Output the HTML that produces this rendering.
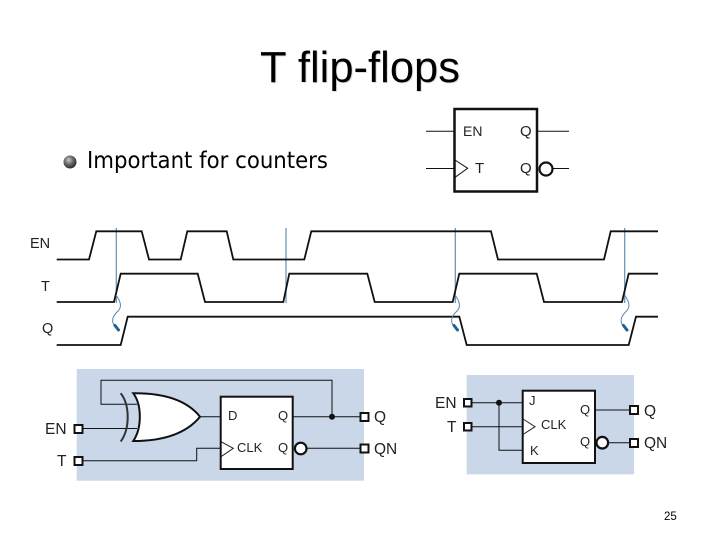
<!DOCTYPE html>
<html><head><meta charset="utf-8"><style>
html,body{margin:0;padding:0;background:#fff}
svg{display:block}
text{font-family:"Liberation Sans",sans-serif;fill:#222}
</style></head><body>
<svg width="720" height="540" viewBox="0 0 720 540" xmlns="http://www.w3.org/2000/svg">
<defs><radialGradient id="b" cx="40%" cy="35%" r="70%"><stop offset="0" stop-color="#c8c8c8"/><stop offset=".5" stop-color="#666"/><stop offset="1" stop-color="#222"/></radialGradient></defs>
<rect width="720" height="540" fill="#fff"/>
<text x="261" y="83" font-size="43.5" textLength="200" style="fill:#ddd">T flip-flops</text>
<text x="260" y="82" font-size="43.5" textLength="200" style="fill:#000">T flip-flops</text>
<circle cx="70" cy="162" r="6.5" fill="url(#b)"/>
<text x="87" y="168" font-size="23" textLength="241" lengthAdjust="spacingAndGlyphs" style="font-family:'DejaVu Sans',sans-serif;fill:#000">Important for counters</text>
<!-- top symbol -->
<g fill="none" stroke="#111">
<path d="M426 131.3H454M537 131.3H569M426 168.5H455M553 168.5H569" stroke-width="1"/>
<rect x="454.5" y="109" width="82.5" height="82.5" stroke-width="2.5" fill="#fff"/>
<path d="M455 160L467.7 168.3L455 177.3" stroke-width="1"/>
<circle cx="546" cy="169" r="6.5" stroke-width="2.2" fill="#fff"/>
</g>
<text x="463" y="136" font-size="14">EN</text><text x="520" y="136" font-size="15">Q</text>
<text x="475" y="173" font-size="15">T</text><text x="520" y="173" font-size="15">Q</text>
<!-- timing -->
<g fill="none" stroke="#5f8fb5" stroke-width="1.2">
<path d="M116.3 228V303M286 228V303M455.3 228V303M624.7 228V303"/>
</g>
<g fill="none" stroke="#111" stroke-width="1.8">
<path d="M56.7 259.5H89L96.3 231.3H141.7L149 259.5H180.7L187.3 231.3H226.7L233.3 259.5H304.3L311.3 231.3H491L498 259.5H604L610.7 231.3H658"/>
<path d="M56.7 302H114L120.7 273.7H197.7L205 302H283.3L289.3 273.7H367.3L374.7 302H452.7L459.3 273.7H536.7L544 302H622L628.7 273.7H658"/>
<path d="M56.7 345H120.7L127.7 316.7H459.3L466.7 345H628.7L636 316.7H658"/>
</g>
<g fill="none" stroke="#5b84a8" stroke-width="1">
<path d="M116 295C121 302 122 307 118 311C113 316 111 320 114 325L118 330"/>
<path d="M455 295C460 302 461 307 457 311C452 316 450 320 453 325L457 330"/>
<path d="M624.5 295C629.5 302 630.5 307 626.5 311C621.5 316 619.5 320 622.5 325L626.5 330"/>
</g>
<g stroke="#1f5f92" stroke-width="3" stroke-linecap="round">
<path d="M115 325.5L118.5 330M454 325.5L457.5 330M623.5 325.5L627 330"/>
</g>
<text x="30" y="248" font-size="14.5">EN</text><text x="41" y="291" font-size="14.5">T</text><text x="42" y="333" font-size="14.5">Q</text>
<!-- left block -->
<rect x="76.7" y="369" width="287.3" height="111.7" fill="#c9d7e9"/>
<g fill="none" stroke="#111" stroke-width="1">
<path d="M332 416.7V380.3H101V404.3H137M78 428.5H137M200 416.7H221M292 416.7H364M306 448.3H364M78 460.7H196.7V448.3H221"/>
</g>
<path d="M133.3 393.3C160 393 185 398 200 416.7C185 435 160 441 133.3 441C142 428 142 405 133.3 393.3Z" fill="#fff" stroke="#111" stroke-width="2"/>
<path d="M120.7 393.3C130 405 130 429 120.7 441.5" fill="none" stroke="#333" stroke-width="2"/>
<rect x="220.7" y="396.7" width="72" height="72.3" fill="#fff" stroke="#111" stroke-width="2"/>
<path d="M221 441.7L233.3 448.3L221 456.7" fill="none" stroke="#222" stroke-width="1"/>
<circle cx="300.7" cy="448.5" r="5.8" fill="#fff" stroke="#111" stroke-width="2.2"/>
<circle cx="332" cy="416.7" r="3" fill="#111"/>
<g fill="#fff" stroke="#111" stroke-width="2">
<rect x="74.5" y="425" width="8" height="8"/><rect x="74.5" y="457" width="8" height="8"/>
<rect x="360.5" y="413" width="8" height="8"/><rect x="360.5" y="444.5" width="8" height="8"/>
</g>
<text x="228" y="420" font-size="13">D</text><text x="278" y="420" font-size="13">Q</text>
<text x="237" y="452" font-size="13">CLK</text><text x="278" y="452" font-size="13">Q</text>
<text x="45" y="434" font-size="15.5">EN</text><text x="57" y="466" font-size="15.5">T</text>
<text x="374" y="422" font-size="15.5">Q</text><text x="374" y="454" font-size="15.5">QN</text>
<!-- right block -->
<rect x="466.7" y="375" width="167.3" height="99.3" fill="#c9d7e9"/>
<g fill="none" stroke="#111" stroke-width="1">
<path d="M468 402.7H523M468 426.7H523M499 402.7V450.3H523M595 410H634M608 442.7H634"/>
</g>
<rect x="522.7" y="390.7" width="72.3" height="72.3" fill="#fff" stroke="#111" stroke-width="2"/>
<path d="M523 419L535 426.7L523 434.5" fill="none" stroke="#222" stroke-width="1"/>
<circle cx="602.3" cy="442.7" r="5.8" fill="#fff" stroke="#111" stroke-width="2.2"/>
<circle cx="499" cy="402.7" r="3" fill="#111"/>
<g fill="#fff" stroke="#111" stroke-width="2">
<rect x="464" y="399" width="7.5" height="7.5"/><rect x="464" y="423" width="7.5" height="7.5"/>
<rect x="630" y="406" width="8" height="8"/><rect x="630" y="439" width="8" height="8"/>
</g>
<text x="529" y="405" font-size="13">J</text><text x="580" y="414" font-size="13">Q</text>
<text x="541" y="429" font-size="13">CLK</text><text x="580" y="446" font-size="13">Q</text>
<text x="530" y="455" font-size="13">K</text>
<text x="435" y="408" font-size="15.5">EN</text><text x="447" y="432" font-size="15.5">T</text>
<text x="644" y="416" font-size="15.5">Q</text><text x="644" y="448" font-size="15.5">QN</text>
<text x="664" y="520" font-size="11.5" style="fill:#000">25</text>
</svg>
</body></html>
